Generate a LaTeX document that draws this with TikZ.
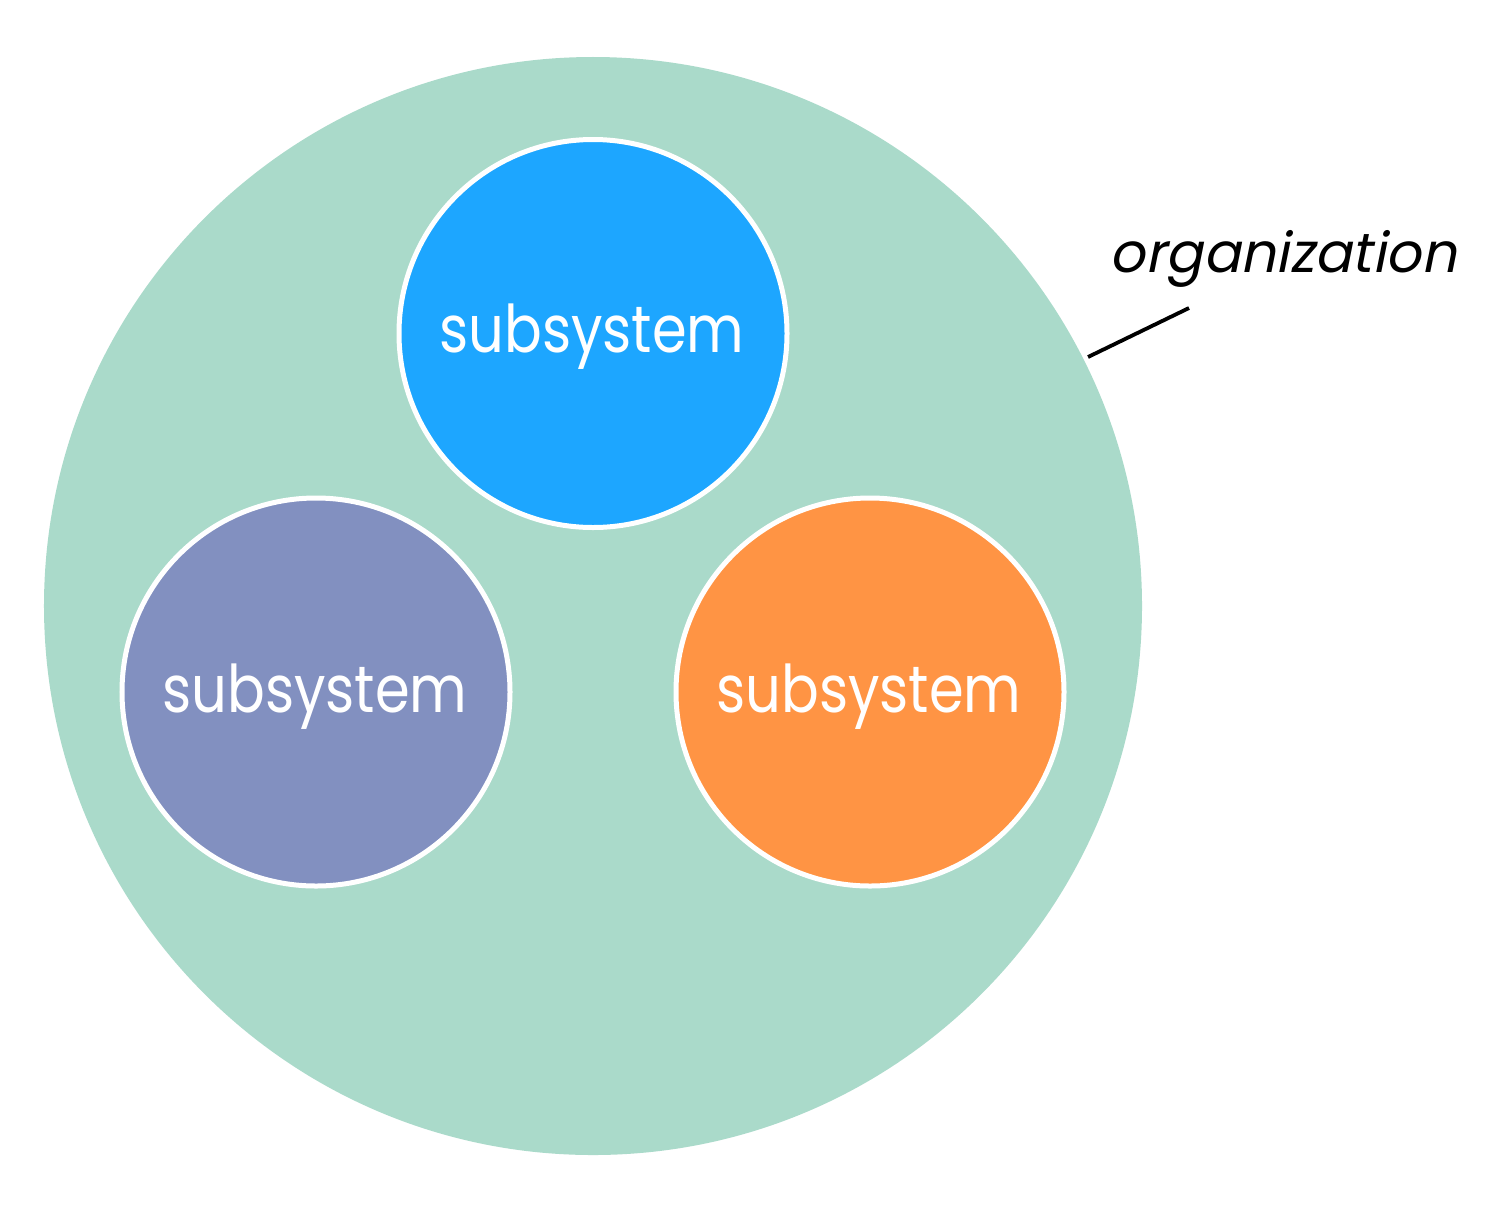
\documentclass[tikz,border=0pt]{standalone}
\usepackage{fontspec}
\newfontfamily\geofont{Poppins}
\definecolor{orgcol}{HTML}{AADACA}
\definecolor{bluecol}{HTML}{1DA6FF}
\definecolor{purplecol}{HTML}{8290C0}
\definecolor{orangecol}{HTML}{FF9444}
\tikzset{
  subsys/.style={circle, draw=white, line width=5bp, minimum size=388bp, inner sep=0pt},
  subtext/.style={anchor=base, text=white, font=\geofont\fontsize{66}{72}\selectfont, inner sep=0pt, xscale=0.85},
  orgtext/.style={anchor=base, text=black, font=\geofont\fontsize{55.5}{60}\selectfont, inner sep=0pt, xslant=0.2},
  leader/.style={draw=black, line width=3.8bp}
}
\begin{document}
\begin{tikzpicture}[x=1bp, y=-1bp]
\useasboundingbox (0,0) rectangle (1497,1205);
\node[circle, fill=orgcol, minimum size=1098bp, inner sep=0pt] (org) at (593,606) {};
\node[subsys, fill=bluecol] (top) at (593,333.5) {};
\node[subsys, fill=purplecol] (left) at (316,692) {};
\node[subsys, fill=orangecol] (right) at (870,692) {};
\node[subtext] (ttop) at (592,352) {subsystem};
\node[subtext] (tleft) at (315,712) {subsystem};
\node[subtext] (tright) at (869,712) {subsystem};
\node[orgtext] (orglabel) at (1283,272) {organization};
\coordinate (lstart) at (1189,308);
\coordinate (lend) at (1088,357);
\draw[leader] (lstart) -- (lend);
\end{tikzpicture}
\end{document}
